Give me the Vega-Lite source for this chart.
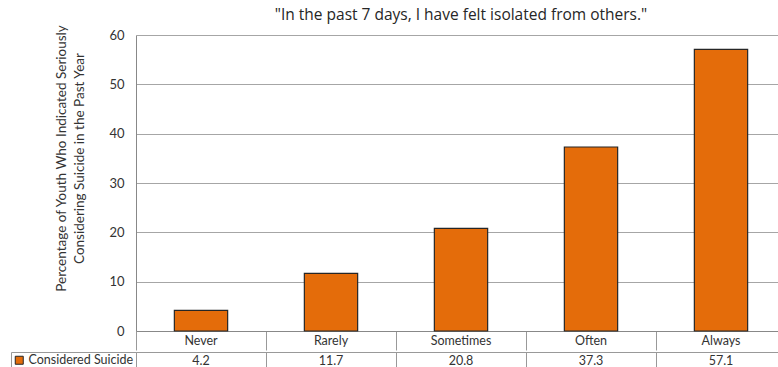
{
  "$schema": "https://vega.github.io/schema/vega-lite/v6.json",
  "padding": {"left": 10, "top": 7, "right": 0, "bottom": 0},
  "background": "white",
  "spacing": 0,
  "config": {"view": {"stroke": null}, "font": "Lato"},
  "data": {"values": [
    {"response": "Never", "pct": 4.2, "series": "Considered Suicide"},
    {"response": "Rarely", "pct": 11.7, "series": "Considered Suicide"},
    {"response": "Sometimes", "pct": 20.8, "series": "Considered Suicide"},
    {"response": "Often", "pct": 37.3, "series": "Considered Suicide"},
    {"response": "Always", "pct": 57.1, "series": "Considered Suicide"}
  ]},
  "resolve": {"scale": {"color": "independent"}, "legend": {"color": "independent"}},
  "vconcat": [
    {
      "width": 650,
      "height": 296,
      "title": {"text": "\"In the past 7 days, I have felt isolated from others.\"", "font": "Open Sans", "fontSize": 15.5, "fontWeight": "normal", "color": "#262626", "anchor": "middle", "offset": 1},
      "mark": {"type": "bar", "fill": "#E46C0A", "stroke": "#262626", "strokeWidth": 1.2, "width": {"band": 0.41}},
      "encoding": {
        "x": {"field": "response", "type": "nominal", "sort": null,
          "scale": {"paddingInner": 0, "paddingOuter": 0},
          "axis": {"title": null, "labelAngle": 0, "bandPosition": 0, "tickSize": 19, "tickColor": "#999999", "domainColor": "#888888", "labelPadding": -16, "labelBaseline": "top", "labelFontSize": 12.5, "labelColor": "#333333", "labelFont": "Lato"}},
        "y": {"field": "pct", "type": "quantitative",
          "scale": {"domain": [0, 60], "nice": false},
          "axis": {"values": [0, 10, 20, 30, 40, 50, 60], "ticks": false, "domainColor": "#888888", "gridColor": "#a6a6a6", "labelFontSize": 13, "labelColor": "#333333", "labelPadding": 12,
            "title": ["Percentage of Youth Who Indicated Seriously", "Considering Suicide in the Past Year"],
            "titleFontSize": 13.5, "titleFontWeight": "normal", "titleColor": "#333333", "titlePadding": 22, "titleLineHeight": 18, "titleY": 123}}
      }
    },
    {
      "width": 650,
      "height": 17,
      "layer": [
        {
          "mark": {"type": "text", "font": "Lato", "fontSize": 12.5, "color": "#333333", "baseline": "middle"},
          "encoding": {
            "x": {"field": "response", "type": "nominal", "sort": null,
              "scale": {"paddingInner": 0, "paddingOuter": 0},
              "axis": {"orient": "top", "title": null, "labels": false, "ticks": false, "grid": true, "tickBand": "extent", "gridColor": "#999999", "domainColor": "#999999"}},
            "text": {"field": "pct", "type": "quantitative", "format": ".1f"}
          }
        },
        {
          "mark": {"type": "square", "opacity": 0},
          "encoding": {
            "color": {"field": "series", "type": "nominal", "scale": {"range": ["#E46C0A"]},
              "legend": {"orient": "left", "title": null, "offset": 0, "symbolType": "square", "symbolSize": 64, "symbolStrokeColor": "#262626", "symbolStrokeWidth": 1, "symbolOpacity": 1, "labelFont": "Lato", "labelFontSize": 12.5, "labelColor": "#333333", "strokeColor": "#999999", "padding": 2, "labelOffset": 3}}
          }
        }
      ]
    }
  ]
}
